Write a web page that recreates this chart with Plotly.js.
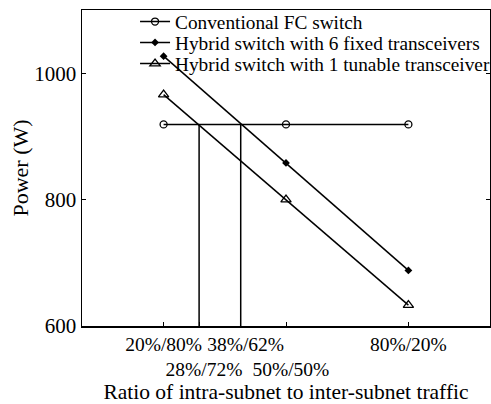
<!DOCTYPE html>
<html>
<head>
<meta charset="utf-8">
<script src="https://cdn.plot.ly/plotly-3.0.1.min.js"></script>
<style>html,body{margin:0;padding:0;background:#fff;}#chart{width:491px;height:404px;}</style>
</head>
<body>
<div id="chart"></div>
<script>
// Data
const ratioX = [20, 50, 80];
const conventionalFC = [919, 919, 919];
const hybridFixed = [1027, 858, 688];
const hybridTunable = [966, 800, 633];
const crossX = [28.7, 38.9];          // intersections with the conventional FC line
const crossTop = 919;
const yBottom = 600;
const tickVals = [20, 28.7, 38.9, 50, 80];
const tickText = ['20%/80%', '<br>\u00a0\u00a028%/72%', '\u00a0\u00a038%/62%', '<br>\u00a0\u00a050%/50%', '80%/20%'];
const yTickVals = [600, 800, 1000];
const seriesNames = ['Conventional FC switch', 'Hybrid switch with 6 fixed transceivers', 'Hybrid switch with 1 tunable transceiver'];

const FONT = 'Liberation Serif, Times New Roman, serif';
const lineStyle = {color: '#000', width: 1.5};

const traces = [
  {x: ratioX, y: conventionalFC, name: seriesNames[0], legend: 'legend', mode: 'lines+markers', line: lineStyle,
   marker: {symbol: 'circle-open', size: 7, color: '#000', line: {width: 1.3, color: '#000'}}},
  {x: ratioX, y: hybridFixed, name: seriesNames[1], legend: 'legend2', mode: 'lines+markers', line: lineStyle,
   marker: {symbol: 'diamond', size: 6, color: '#000'}},
  {x: ratioX, y: hybridTunable, name: seriesNames[2], legend: 'legend3', mode: 'lines+markers', line: lineStyle,
   marker: {symbol: 'triangle-up-open', size: 9, color: '#000', line: {width: 1.3, color: '#000'}}}
];
crossX.forEach(function (cx) {
  traces.push({x: [cx, cx], y: [crossTop, yBottom], mode: 'lines', line: lineStyle, showlegend: false, hoverinfo: 'skip'});
});

function legendAt(y) {
  return {x: 0.13, y: y, xanchor: 'left', yanchor: 'middle', bgcolor: 'rgba(0,0,0,0)',
          borderwidth: 0, font: {family: FONT, size: 19.3, color: '#000'}};
}

const layout = {
  width: 491, height: 404,
  margin: {l: 82, r: 1, t: 10, b: 78, autoexpand: false},
  paper_bgcolor: '#fff', plot_bgcolor: '#fff',
  font: {family: FONT, size: 19, color: '#000'},
  showlegend: true,
  legend: legendAt(0.962),
  legend2: legendAt(0.896),
  legend3: legendAt(0.829),
  xaxis: {range: [0, 100], tickmode: 'array', tickvals: tickVals, ticktext: tickText, tickangle: 0,
          ticks: 'inside', ticklen: 4, tickwidth: 1, tickcolor: '#000',
          showline: true, linecolor: '#000', linewidth: 1.5, mirror: true,
          showgrid: false, zeroline: false, automargin: false,
          tickfont: {family: FONT, size: 19.5},
          title: {text: 'Ratio of intra-subnet to inter-subnet traffic', font: {family: FONT, size: 21.5}, standoff: 0}},
  yaxis: {range: [600, 1100], tickmode: 'array', tickvals: yTickVals,
          ticks: 'inside', ticklen: 4, tickwidth: 1, tickcolor: '#000',
          showline: true, linecolor: '#000', linewidth: 1.5, mirror: 'ticks',
          showgrid: false, zeroline: false, automargin: false,
          tickfont: {family: FONT, size: 21},
          title: {text: 'Power (W)', font: {family: FONT, size: 22}}}
};

Plotly.newPlot('chart', traces, layout, {displayModeBar: false, staticPlot: true});
</script>
</body>
</html>
